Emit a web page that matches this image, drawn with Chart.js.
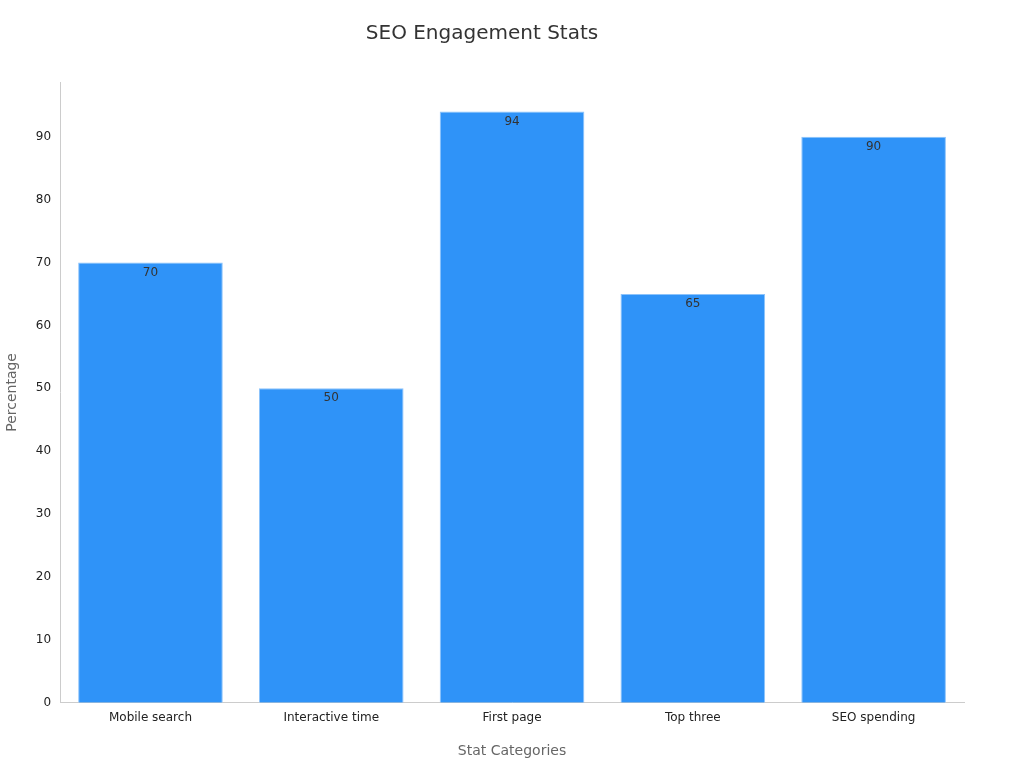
<!DOCTYPE html>
<html>
<head>
<meta charset="utf-8">
<script src="https://cdn.jsdelivr.net/npm/chart.js@4/dist/chart.umd.min.js"></script>
<style>
  html, body { margin: 0; padding: 0; background: #fff; }
  #wrap { width: 1024px; height: 768px; }
</style>
</head>
<body>
<div id="wrap"><canvas id="grafico"></canvas></div>
<script>
// Dados do gráfico
const categorias = ['Mobile search', 'Interactive time', 'First page', 'Top three', 'SEO spending'];
const percentuais = [70, 50, 94, 65, 90];

// Rótulos de valor dentro do topo de cada barra
const rotulosPlugin = {
    id: 'rotulos',
    afterDatasetsDraw(chart) {
        const ctx = chart.ctx;
        const meta = chart.getDatasetMeta(0);
        ctx.save();
        ctx.font = '12px "DejaVu Sans", sans-serif';
        ctx.fillStyle = '#333';
        ctx.textAlign = 'center';
        ctx.textBaseline = 'top';
        meta.data.forEach((bar, i) => {
            ctx.fillText(String(percentuais[i]), bar.x, bar.y + 4);
        });
        ctx.restore();
    }
};

new Chart(document.getElementById('grafico').getContext('2d'), {
    type: 'bar',
    data: {
        labels: categorias,
        datasets: [{
            data: percentuais,
            backgroundColor: '#2f93f8',
            borderColor: '#8cc3fb',
            borderWidth: 1,
            barPercentage: 0.8,
            categoryPercentage: 1
        }]
    },
    options: {
        responsive: true,
        maintainAspectRatio: false,
        animation: false,
        layout: { padding: { left: 0, right: 60, top: 10, bottom: 4 } },
        scales: {
            x: {
                grid: { display: false, drawTicks: false },
                border: { color: '#ccc' },
                ticks: { color: '#222', font: { family: 'DejaVu Sans', size: 12 }, padding: 8 },
                title: { display: true, text: 'Stat Categories', color: '#666', font: { family: 'DejaVu Sans', size: 14 }, padding: { top: 10 } }
            },
            y: {
                min: 0,
                max: 98.7,
                grid: { display: false, drawTicks: true, tickLength: 6, tickColor: '#666' },
                border: { color: '#ccc' },
                ticks: {
                    stepSize: 10,
                    color: '#222',
                    font: { family: 'DejaVu Sans', size: 12 },
                    callback: v => (v % 10 === 0 ? v : '')
                },
                title: { display: true, text: 'Percentage', color: '#666', font: { family: 'DejaVu Sans', size: 14 }, padding: { bottom: 12 } }
            }
        },
        plugins: {
            legend: { display: false },
            tooltip: { enabled: false },
            title: {
                display: true,
                text: 'SEO Engagement Stats',
                color: '#333',
                font: { family: 'DejaVu Sans', size: 20, weight: 'normal' },
                padding: { top: 12, bottom: 36 }
            }
        }
    },
    plugins: [rotulosPlugin]
});
</script>
</body>
</html>
